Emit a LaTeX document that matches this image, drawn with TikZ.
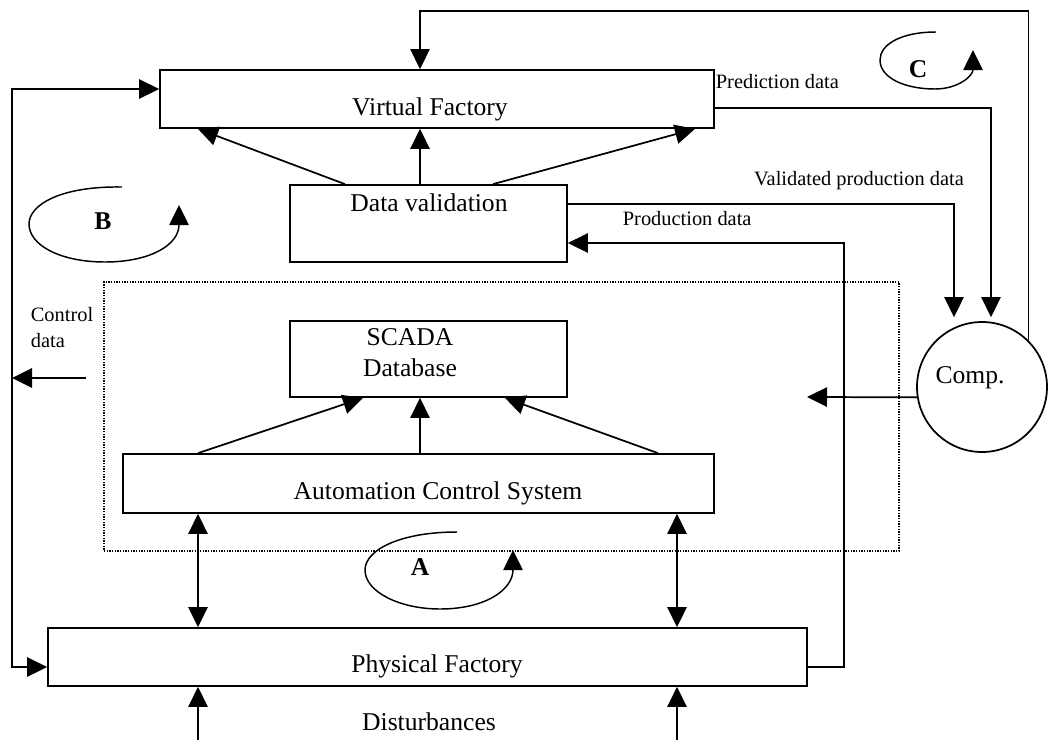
\documentclass[tikz,border=0pt]{standalone}
\usepackage{fontspec}
\setmainfont{Liberation Serif}
\usetikzlibrary{arrows.meta,calc}
\begin{document}
\begin{tikzpicture}[x=0.75pt,y=-0.75pt,
  line width=1.3pt,
  box/.style={draw,rectangle,inner sep=0pt,line width=1.3pt},
  big/.style={font=\fontsize{19.2}{23}\selectfont,inner sep=0pt},
  bigb/.style={font=\fontsize{19.2}{23}\selectfont\bfseries,inner sep=0pt},
  small/.style={font=\fontsize{15.3}{19.5}\selectfont,inner sep=0pt},
  arr/.style={-{Triangle[length=15pt,width=14.5pt]}},
  darr/.style={{Triangle[length=15pt,width=14.5pt]}-{Triangle[length=15pt,width=14.5pt]}},
  loop/.style={line width=1.1pt,-{Triangle[length=15pt,width=14.5pt]}},
]
\useasboundingbox (0,0) rectangle (1064,740);

% boxes
\node[box, minimum width=415.5pt, minimum height=43.5pt] (vf) at (437,99) {};
\node[box, minimum width=207.75pt, minimum height=57.75pt] (dv) at (428.5,223.5) {};
\node[draw, dash pattern=on 1pt off 1pt, line width=1pt, inner sep=0pt, minimum width=596.25pt, minimum height=201.75pt] (grp) at (501.5,416.5) {};
\node[box, minimum width=207.75pt, minimum height=57pt] (sc) at (428.5,359) {};
\node[box, minimum width=443.25pt, minimum height=44.25pt] (acs) at (418.5,483.5) {};
\node[box, minimum width=569.25pt, minimum height=43.5pt] (pf) at (427.5,657) {};
\node[draw, circle, inner sep=0pt, minimum size=97.5pt, line width=1.3pt] (comp) at (982,387) {};

% texts
\node[big, anchor=base] (vft) at (430,115) {Virtual Factory};
\node[big, anchor=base] (dvt) at (429,211) {Data validation};
\node[big, anchor=north, align=center] (sct) at (410,328) {SCADA\\Database};
\node[big, anchor=base] (acst) at (438,499) {Automation Control System};
\node[big, anchor=base] (pft) at (437,672) {Physical Factory};
\node[big, anchor=base] (dist) at (429,730) {Disturbances};
\node[big, anchor=base] (compt) at (970,383) {Comp.};
\node[small, anchor=base west] (pdt) at (715,88) {Prediction data};
\node[small, anchor=base] (vpdt) at (859,185) {Validated production data};
\node[small, anchor=base west] (prt) at (622,225) {Production data};
\node[small, anchor=north west, align=left] (cdt) at (30,306) {Control\\data};
\node[bigb, anchor=base] (lb) at (103,229) {B};
\node[bigb, anchor=base] (lc) at (918,77) {C};
\node[bigb, anchor=base] (la) at (420,575) {A};

% coordinates for free ends
\coordinate (l1) at (12,89);
\coordinate (l2) at (12,667);
\coordinate (cd) at (86,378);
\coordinate (ce) at (807,397);
\coordinate (d1) at (198,740);
\coordinate (d2) at (677,740);

% Data validation -> Virtual Factory
\draw[arr] ($(dv.north)+(-83.5,0)$) -- ($(vf.south)+(-239,0)$);
\draw[arr] ($(dv.north)+(-8.5,0)$) -- ($(vf.south)+(-17,0)$);
\draw[arr] ($(dv.north)+(64.5,0)$) -- ($(vf.south)+(258,0)$);

% Comp -> Virtual Factory (top loop)
\draw[arr] (comp.45) |- ($(vf.north)+(-17,-58)$) -- ($(vf.north)+(-17,0)$);

% Prediction data / validated production data -> Comp
\draw[arr] ($(vf.east)+(0,9)$) -| ($(comp.north)+(9,-4)$);
\draw[arr] ($(dv.east)+(0,-19.5)$) -| ($(comp.north)+(-28,-4)$);

% Production data
\draw[arr] ($(pf.east)+(0,10)$) -- ++(36,0) |- ($(dv.east)+(0,19.5)$);

% Left control loop
\draw[darr] ($(vf.west)+(0,-10)$) -- (l1) -- (l2) -- ($(pf.west)+(0,10)$);
\draw[arr] (cd) -- (cd -| l1);

% Comp -> control system group
\draw[arr] (comp.189) -- (ce);

% Automation Control System -> SCADA
\draw[arr] ($(acs.north)+(-220.5,0)$) -- ($(sc.south)+(-65.5,0)$);
\draw[arr] ($(acs.north)+(1.5,0)$) -- ($(sc.south)+(-8.5,0)$);
\draw[arr] ($(acs.north)+(239.5,0)$) -- ($(sc.south)+(76.5,0)$);

% ACS <-> Physical Factory
\draw[darr] ($(acs.south)+(-220.5,0)$) -- ($(pf.north)+(-229.5,0)$);
\draw[darr] ($(acs.south)+(258.5,0)$) -- ($(pf.north)+(249.5,0)$);

% Disturbances
\draw[arr] (d1) -- ($(pf.south)+(-229.5,0)$);
\draw[arr] (d2) -- ($(pf.south)+(249.5,0)$);

% loops
\draw[loop] (122,187) .. controls (60,186) and (29,205) .. (29,224)
  .. controls (29,245) and (60,262) .. (105,262)
  .. controls (150,262) and (179,245) .. (179,205);
\draw[loop] (936,32) .. controls (900,32) and (880,45) .. (880,60)
  .. controls (880,78) and (905,89) .. (935,89)
  .. controls (958,89) and (973,76) .. (973,50);
\draw[loop] (457,532) .. controls (400,532) and (365,550) .. (365,570)
  .. controls (365,592) and (400,609) .. (440,609)
  .. controls (485,609) and (513,590) .. (513,550);
\end{tikzpicture}
\end{document}
